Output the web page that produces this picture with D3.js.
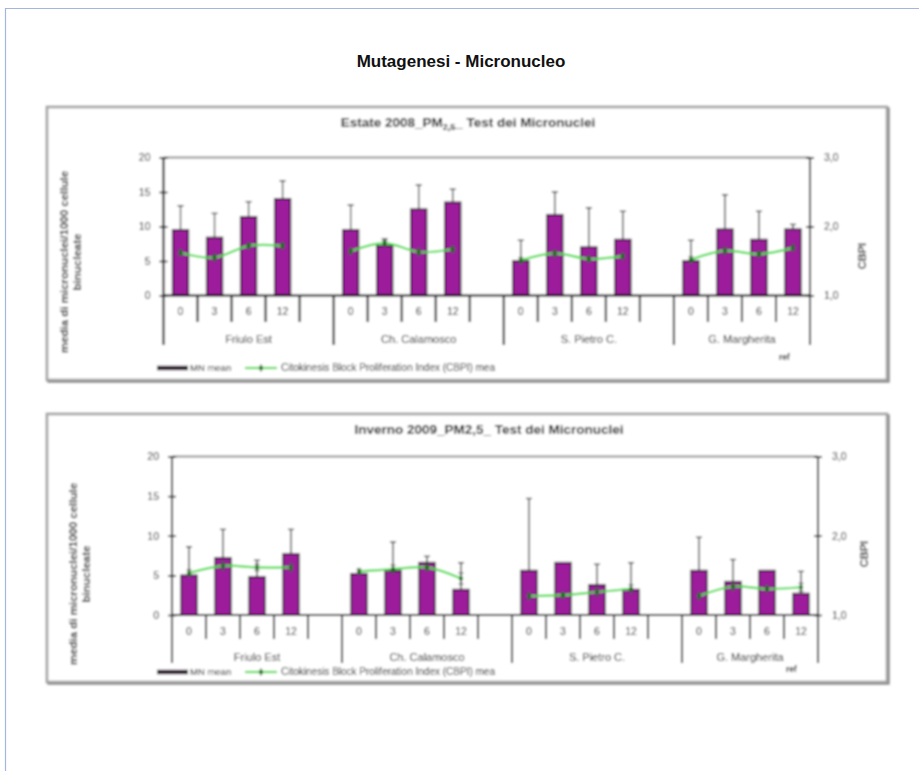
<!DOCTYPE html>
<html>
<head>
<meta charset="utf-8">
<title>Mutagenesi - Micronucleo</title>
<script src="https://cdn.jsdelivr.net/npm/d3@7"></script>
<style>
  html, body { margin: 0; padding: 0; background: #ffffff; }
  svg { display: block; font-family: "Liberation Sans", Arial, sans-serif; }
</style>
</head>
<body>
<svg id="page" width="919" height="771"></svg>
<script>
// Sampling sites and sampling times (months)
const groups = ["Friulo Est", "Ch. Calamosco", "S. Pietro C.", "G. Margherita"];
const times = ["0", "3", "6", "12"];
const mnTicks = [0, 5, 10, 15, 20];
const cbpiTicks = [1, 2, 3];

// Summer 2008 – micronuclei per 1000 binucleate cells (mean, upper SD) and CBPI
const summerMN      = [9.5, 8.4, 11.4, 14.0,  9.5, 7.2, 12.5, 13.5,  5.0, 11.7, 7.0, 8.1,  5.0, 9.6, 8.1, 9.6];
const summerMNErr   = [3.5, 3.5, 2.2, 2.6,   3.6, 1.0, 3.5, 1.9,   3.0, 3.3, 5.7, 4.1,   3.0, 5.0, 4.1, 0.7];
const summerCBPI    = [1.62, 1.55, 1.72, 1.72,  1.64, 1.76, 1.63, 1.67,  1.51, 1.61, 1.53, 1.57,  1.52, 1.65, 1.60, 1.69];
const summerCBPIErr = [0.04, 0.05, 0.04, 0.04,  0.04, 0.03, 0.05, 0.04,  0.04, 0.05, 0.04, 0.04,  0.04, 0.05, 0.04, 0.04];

// Winter 2009 – same measures
const winterMN      = [5.0, 7.2, 4.8, 7.7,  5.2, 5.6, 6.6, 3.2,  5.6, 6.6, 3.8, 3.2,  5.6, 4.2, 5.6, 2.7];
const winterMNErr   = [3.6, 3.6, 2.1, 3.1,  0.0, 3.6, 0.8, 3.4,  9.1, 0.0, 2.6, 3.4,  4.2, 2.8, 0.0, 2.8];
const winterCBPI    = [1.53, 1.62, 1.60, 1.60,  1.55, 1.58, 1.60, 1.46,  1.24, 1.25, 1.29, 1.33,  1.24, 1.36, 1.33, 1.35];
const winterCBPIErr = [0.04, 0.05, 0.04, 0.05,  0.03, 0.05, 0.04, 0.07,  0.04, 0.03, 0.05, 0.05,  0.04, 0.05, 0.04, 0.05];

const legendMN = "MN mean";
const legendCBPI = "Citokinesis Block Proliferation Index (CBPI) mea";
const yTitleLines = ["media di micronuclei/1000 cellule", "binucleate"];

const svg = d3.select("#page");
const ink = "#151515";

const defs = svg.append("defs");
defs.append("filter").attr("id", "soft")
  .attr("x", "-2%").attr("y", "-2%").attr("width", "104%").attr("height", "104%")
  .append("feGaussianBlur").attr("stdDeviation", 0.85);

// Page frame and heading
svg.append("path")
  .attr("d", "M5.5,771 V8.5 H919")
  .attr("fill", "none").attr("stroke", "#a3b6df").attr("stroke-width", 1.2);

svg.append("text")
  .attr("x", 461).attr("y", 67)
  .attr("text-anchor", "middle")
  .attr("font-weight", "bold").attr("font-size", 17)
  .attr("fill", "#111")
  .text("Mutagenesi - Micronucleo");

function drawChart(c) {
  const g = svg.append("g").attr("filter", "url(#soft)");

  // panel frame with a soft shadow edge
  const [px0, py0, px1, py1] = c.panel;
  g.append("rect")
    .attr("x", px0 + 1.5).attr("y", py0 + 1.5)
    .attr("width", px1 - px0).attr("height", py1 - py0)
    .attr("fill", "none").attr("stroke", "#777").attr("stroke-width", 2.2);
  g.append("rect")
    .attr("x", px0).attr("y", py0)
    .attr("width", px1 - px0).attr("height", py1 - py0)
    .attr("fill", "#fff").attr("stroke", "#a2a2a2").attr("stroke-width", 2.6);

  // slots: four times per site, plus an empty spacer after every site but the last
  const slots = [];
  groups.forEach((gr, gi) => {
    times.forEach(t => slots.push(gr + "|" + t));
    if (gi < groups.length - 1) slots.push(gr + "|");
  });

  const x = d3.scaleBand().domain(slots).range([c.x0, c.x1]);
  const bw = x.bandwidth();
  const y = d3.scaleLinear().domain([0, 20]).range([c.yBase, c.yTop]);
  const y2 = d3.scaleLinear().domain([1, 3]).range([c.yBase, c.yTop]);

  const rows = [];
  groups.forEach((gr, gi) => times.forEach((t, ti) => {
    const i = gi * times.length + ti;
    rows.push({ key: gr + "|" + t, mn: c.mn[i], mnErr: c.mnErr[i], cbpi: c.cbpi[i], cbpiErr: c.cbpiErr[i] });
  }));
  const byKey = new Map(rows.map(r => [r.key, r]));
  const lineRows = slots.map(k => byKey.get(k) || { key: k, cbpi: null });
  const cx = k => x(k) + bw / 2;

  // title
  const title = g.append("text")
    .attr("x", c.titleX).attr("y", c.titleY)
    .attr("text-anchor", "middle")
    .attr("font-weight", "bold").attr("font-size", 13.5).attr("fill", "#111");
  c.title.forEach(part => {
    const ts = title.append("tspan").text(part.text);
    if (part.sub) ts.attr("font-size", 9).attr("dy", 3);
    if (part.after) ts.attr("dy", -3);
  });

  // top border of the plot area
  g.append("line")
    .attr("x1", c.x0).attr("x2", c.x1).attr("y1", c.yTop).attr("y2", c.yTop)
    .attr("stroke", "#8f8f8f").attr("stroke-width", 1.8);

  // bars
  const barW = bw * 0.46;
  g.append("g").selectAll("rect").data(rows).join("rect")
    .attr("x", d => cx(d.key) - barW / 2)
    .attr("y", d => y(d.mn))
    .attr("width", barW)
    .attr("height", d => c.yBase - y(d.mn))
    .attr("fill", "#9c1d9c")
    .attr("stroke", "#1a051a").attr("stroke-width", 1.6);

  // upper error bars on MN
  const eb = g.append("g").attr("stroke", "#333").attr("stroke-width", 1.3);
  rows.filter(d => d.mnErr > 0).forEach(d => {
    const xc = cx(d.key), yt = y(d.mn + d.mnErr);
    eb.append("line").attr("x1", xc).attr("x2", xc).attr("y1", y(d.mn)).attr("y2", yt);
    eb.append("line").attr("x1", xc - 3).attr("x2", xc + 3).attr("y1", yt).attr("y2", yt);
  });

  // CBPI smoothed line, broken between sites
  const line = d3.line()
    .defined(d => d.cbpi != null)
    .x(d => cx(d.key))
    .y(d => y2(d.cbpi))
    .curve(d3.curveCatmullRom.alpha(0.5));
  g.append("path").datum(lineRows)
    .attr("d", line)
    .attr("fill", "none").attr("stroke", "#44dc44").attr("stroke-width", 2.2);

  const ceb = g.append("g").attr("stroke", "#4a4a4a").attr("stroke-width", 1);
  rows.forEach(d => {
    const xc = cx(d.key), ya = y2(d.cbpi - d.cbpiErr), yb = y2(d.cbpi + d.cbpiErr);
    ceb.append("line").attr("x1", xc).attr("x2", xc).attr("y1", ya).attr("y2", yb);
    ceb.append("line").attr("x1", xc - 2.5).attr("x2", xc + 2.5).attr("y1", ya).attr("y2", ya);
    ceb.append("line").attr("x1", xc - 2.5).attr("x2", xc + 2.5).attr("y1", yb).attr("y2", yb);
  });
  g.append("g").selectAll("path").data(rows).join("path")
    .attr("transform", d => `translate(${cx(d.key)},${y2(d.cbpi)})`)
    .attr("d", d3.symbol(d3.symbolDiamond, 18))
    .attr("fill", "#0b6b0b");

  // left value axis
  const left = g.append("g").attr("transform", `translate(${c.x0},0)`)
    .call(d3.axisLeft(y).tickValues(mnTicks).tickSize(4).tickPadding(9));
  left.select(".domain").remove();
  left.selectAll(".tick line").attr("x1", 4).attr("x2", -4).attr("stroke", "#000").attr("stroke-width", 1.5);
  left.selectAll(".tick text").attr("font-size", 10.5).attr("fill", ink).attr("font-family", null);
  g.append("line").attr("x1", c.x0).attr("x2", c.x0).attr("y1", c.yTop).attr("y2", c.longTick)
    .attr("stroke", "#000").attr("stroke-width", 2);

  // right CBPI axis
  const right = g.append("g").attr("transform", `translate(${c.x1},0)`)
    .call(d3.axisRight(y2).tickValues(cbpiTicks).tickSize(4).tickPadding(10)
      .tickFormat(d => d3.format(".1f")(d).replace(".", ",")));
  right.select(".domain").remove();
  right.selectAll(".tick line").attr("x1", -4).attr("x2", 4).attr("stroke", "#000").attr("stroke-width", 1.5);
  right.selectAll(".tick text").attr("font-size", 10.5).attr("fill", ink).attr("font-family", null);
  g.append("line").attr("x1", c.x1).attr("x2", c.x1).attr("y1", c.yTop).attr("y2", c.longTick)
    .attr("stroke", "#000").attr("stroke-width", 2);

  // category axis: times, then sites
  const bottom = g.append("g").attr("transform", `translate(0,${c.yBase})`)
    .call(d3.axisBottom(x).tickSize(0).tickPadding(12.5).tickFormat(k => k.split("|")[1]));
  bottom.select(".domain").remove();
  bottom.selectAll(".tick text").attr("font-size", 10.5).attr("fill", ink).attr("font-family", null);
  g.append("line").attr("x1", c.x0).attr("x2", c.x1).attr("y1", c.yBase).attr("y2", c.yBase)
    .attr("stroke", "#000").attr("stroke-width", 2);

  const tk = g.append("g").attr("stroke", "#000").attr("stroke-width", 2);
  slots.forEach((k, i) => {
    if (i === 0) return;
    const newSite = k.split("|")[0] !== slots[i - 1].split("|")[0];
    const xb = x(k);
    tk.append("line").attr("x1", xb).attr("x2", xb)
      .attr("y1", c.yBase).attr("y2", newSite ? c.longTick : c.shortTick);
  });

  groups.forEach(gr => {
    const own = slots.filter(k => k.split("|")[0] === gr);
    const xs = x(own[0]), xe = x(own[own.length - 1]) + bw;
    g.append("text")
      .attr("x", (xs + xe) / 2).attr("y", c.groupY)
      .attr("text-anchor", "middle").attr("font-size", 11).attr("fill", ink)
      .text(gr);
  });

  g.append("text")
    .attr("x", c.unitX).attr("y", c.unitY)
    .attr("font-size", 8.5).attr("font-weight", "bold").attr("fill", ink)
    .text("ref");

  // axis titles
  const yt = g.append("text")
    .attr("transform", `translate(${c.yTitleX},${c.yTitleY}) rotate(-90)`)
    .attr("text-anchor", "middle").attr("font-weight", "bold").attr("font-size", 11.5).attr("fill", ink);
  yTitleLines.forEach((ln, i) => yt.append("tspan").attr("x", 0).attr("dy", i === 0 ? 0 : 12.5).text(ln));

  g.append("text")
    .attr("transform", `translate(${c.cbpiTitleX},${c.cbpiTitleY}) rotate(-90)`)
    .attr("text-anchor", "middle").attr("font-weight", "bold").attr("font-size", 11).attr("fill", ink)
    .text("CBPI");

  // legend
  const lg = g.append("g").attr("transform", `translate(0,${c.legendY})`);
  lg.append("line").attr("x1", 157).attr("x2", 188).attr("y1", 0).attr("y2", 0)
    .attr("stroke", "#220a22").attr("stroke-width", 4.5);
  lg.append("text").attr("x", 190).attr("y", 3.3).attr("font-size", 9.5).attr("fill", ink).text(legendMN);
  lg.append("line").attr("x1", 245).attr("x2", 277).attr("y1", 0).attr("y2", 0)
    .attr("stroke", "#44dc44").attr("stroke-width", 2.2);
  lg.append("path").attr("transform", "translate(261,0)")
    .attr("d", d3.symbol(d3.symbolDiamond, 18)).attr("fill", "#0b6b0b");
  lg.append("text").attr("x", 281).attr("y", 3.3).attr("font-size", 10).attr("fill", ink).text(legendCBPI);
}

drawChart({
  panel: [47, 107, 887, 380],
  x0: 163.5, x1: 810, yTop: 157.5, yBase: 295.5,
  shortTick: 322, longTick: 345, groupY: 343,
  title: [{ text: "Estate 2008_PM" }, { text: "2,5", sub: true }, { text: "_ Test dei Micronuclei", after: true }],
  titleX: 468, titleY: 127,
  yTitleX: 68, yTitleY: 262,
  cbpiTitleX: 866, cbpiTitleY: 256,
  unitX: 779, unitY: 360,
  legendY: 368,
  mn: summerMN, mnErr: summerMNErr, cbpi: summerCBPI, cbpiErr: summerCBPIErr
});

drawChart({
  panel: [47, 414, 887, 682],
  x0: 172, x1: 818, yTop: 456.5, yBase: 615,
  shortTick: 639, longTick: 663, groupY: 661,
  title: [{ text: "Inverno 2009_PM2,5_ Test dei Micronuclei" }],
  titleX: 489, titleY: 434,
  yTitleX: 77, yTitleY: 574,
  cbpiTitleX: 868, cbpiTitleY: 554,
  unitX: 786, unitY: 672,
  legendY: 672,
  mn: winterMN, mnErr: winterMNErr, cbpi: winterCBPI, cbpiErr: winterCBPIErr
});
</script>
</body>
</html>
